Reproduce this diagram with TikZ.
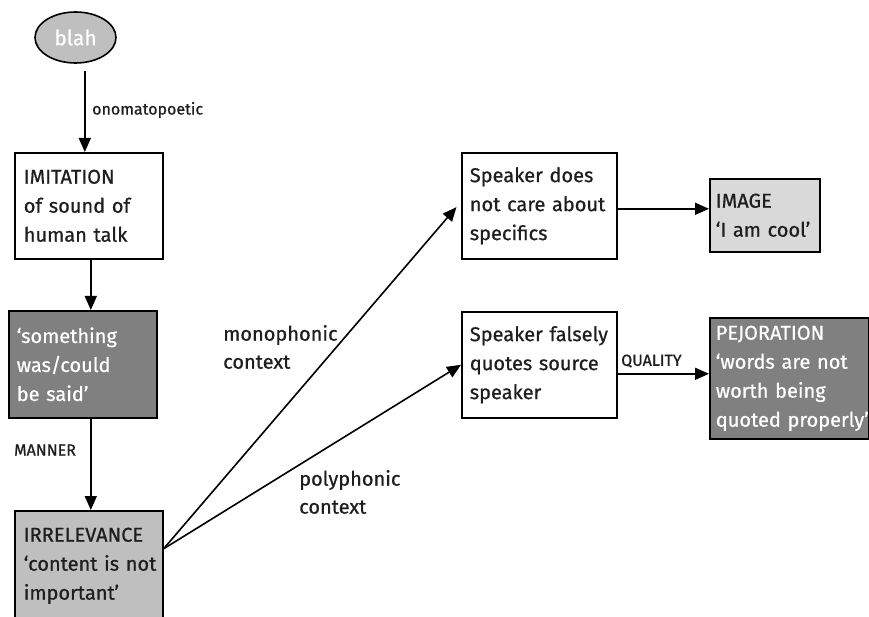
\documentclass[tikz,border=0pt]{standalone}
\usepackage{fontspec}
\setmainfont{Fira Sans}[FakeBold=0.7]
\usetikzlibrary{arrows.meta,shapes.geometric}
\definecolor{darkfill}{HTML}{808080}
\definecolor{midfill}{HTML}{BFBFBF}
\definecolor{lightfill}{HTML}{D9D9D9}
\definecolor{ink}{HTML}{1E1E1E}
\newcommand{\oneline}[1]{\mbox{#1}}
\tikzset{
  arr/.style={line width=1.6pt, -{Triangle[length=14pt,width=12pt]}},
  boxnode/.style={draw=black, line width=1.6pt, rectangle, anchor=north west,
    align=left, inner ysep=0pt, text=ink,
    font=\fontsize{20}{29}\selectfont},
  lbl/.style={text=ink, inner sep=0pt, anchor=west, align=left},
  small/.style={font=\fontsize{16}{20}\selectfont},
  big/.style={font=\fontsize{20}{28}\selectfont},
}
\begin{document}
\begin{tikzpicture}[x=1pt,y=-1pt]
\useasboundingbox (0,0) rectangle (869,617);
\clip (0,0) rectangle (869,617);

% source sound
\node[ellipse, draw=black, line width=1.6pt, fill=midfill, minimum width=81pt,
      minimum height=51pt, inner sep=0pt, text=white,
      font=\fontsize{21}{24}\selectfont] (blah) at (75.5,37.5) {blah};

% left column
\node[boxnode, inner xsep=9pt, text width=130pt, minimum height=106pt] (imit) at (14,152)
  {\oneline{IMITATION}\\\oneline{of sound of}\\\oneline{human talk}};
\node[boxnode, fill=darkfill, text=white, inner xsep=8pt, text width=132pt, minimum height=107pt] (som) at (8,310)
  {\oneline{‘something}\\\oneline{was/could}\\\oneline{be said’}};
\node[boxnode, fill=midfill, inner xsep=9pt, text width=130pt, minimum height=110pt] (irr) at (14,510)
  {\oneline{IRRELEVANCE}\\\oneline{‘content is not}\\\oneline{important’}};

% middle column
\node[boxnode, inner xsep=8pt, text width=139pt, minimum height=106pt] (spk1) at (461,152)
  {\oneline{Speaker does}\\\oneline{not care about}\\\oneline{specifics}};
\node[boxnode, inner xsep=8pt, text width=139pt, minimum height=106pt] (spk2) at (461,311)
  {\oneline{Speaker falsely}\\\oneline{quotes source}\\\oneline{speaker}};

% right column
\node[boxnode, fill=lightfill, inner xsep=6pt, text width=98pt, minimum height=73pt] (img) at (709,178)
  {\oneline{IMAGE}\\\oneline{‘I am cool’}};
\node[boxnode, fill=darkfill, text=white, inner xsep=6pt, text width=147pt, minimum height=121pt] (pej) at (709,317)
  {\oneline{PEJORATION}\\\oneline{‘words are not}\\\oneline{worth being}\\\oneline{quoted properly’}};

% connectors
\draw[arr, shorten <=7pt] ([xshift=-4pt]imit.north |- blah.south) -- ([xshift=-4pt]imit.north);
\draw[arr] ([xshift=2pt]imit.south) -- ([xshift=2pt]imit.south |- som.north);
\draw[arr] ([xshift=8pt]som.south) -- ([xshift=8pt]som.south |- irr.north);
\coordinate (fork) at ([yshift=17pt]irr.east);
\draw[arr, shorten >=7pt] (fork) -- ([yshift=4pt]spk1.west);
\draw[arr] (fork) -- (spk2.west);
\draw[arr] ([yshift=-3pt]spk1.east) -- ([yshift=-3pt]spk1.east -| img.west);
\draw[arr] ([yshift=-9pt]spk2.east) -- ([yshift=-9pt]spk2.east -| pej.west);

% connector labels
\node[lbl, small] (onom) at (92,110) {onomatopoetic};
\node[lbl, small] (man) at (14,450) {MANNER};
\node[lbl, small] (qual) at (621,361) {QUALITY};
\node[lbl, big] (mono) at (223,347) {monophonic\\context};
\node[lbl, big] (poly) at (299,492) {polyphonic\\context};
\end{tikzpicture}
\end{document}
